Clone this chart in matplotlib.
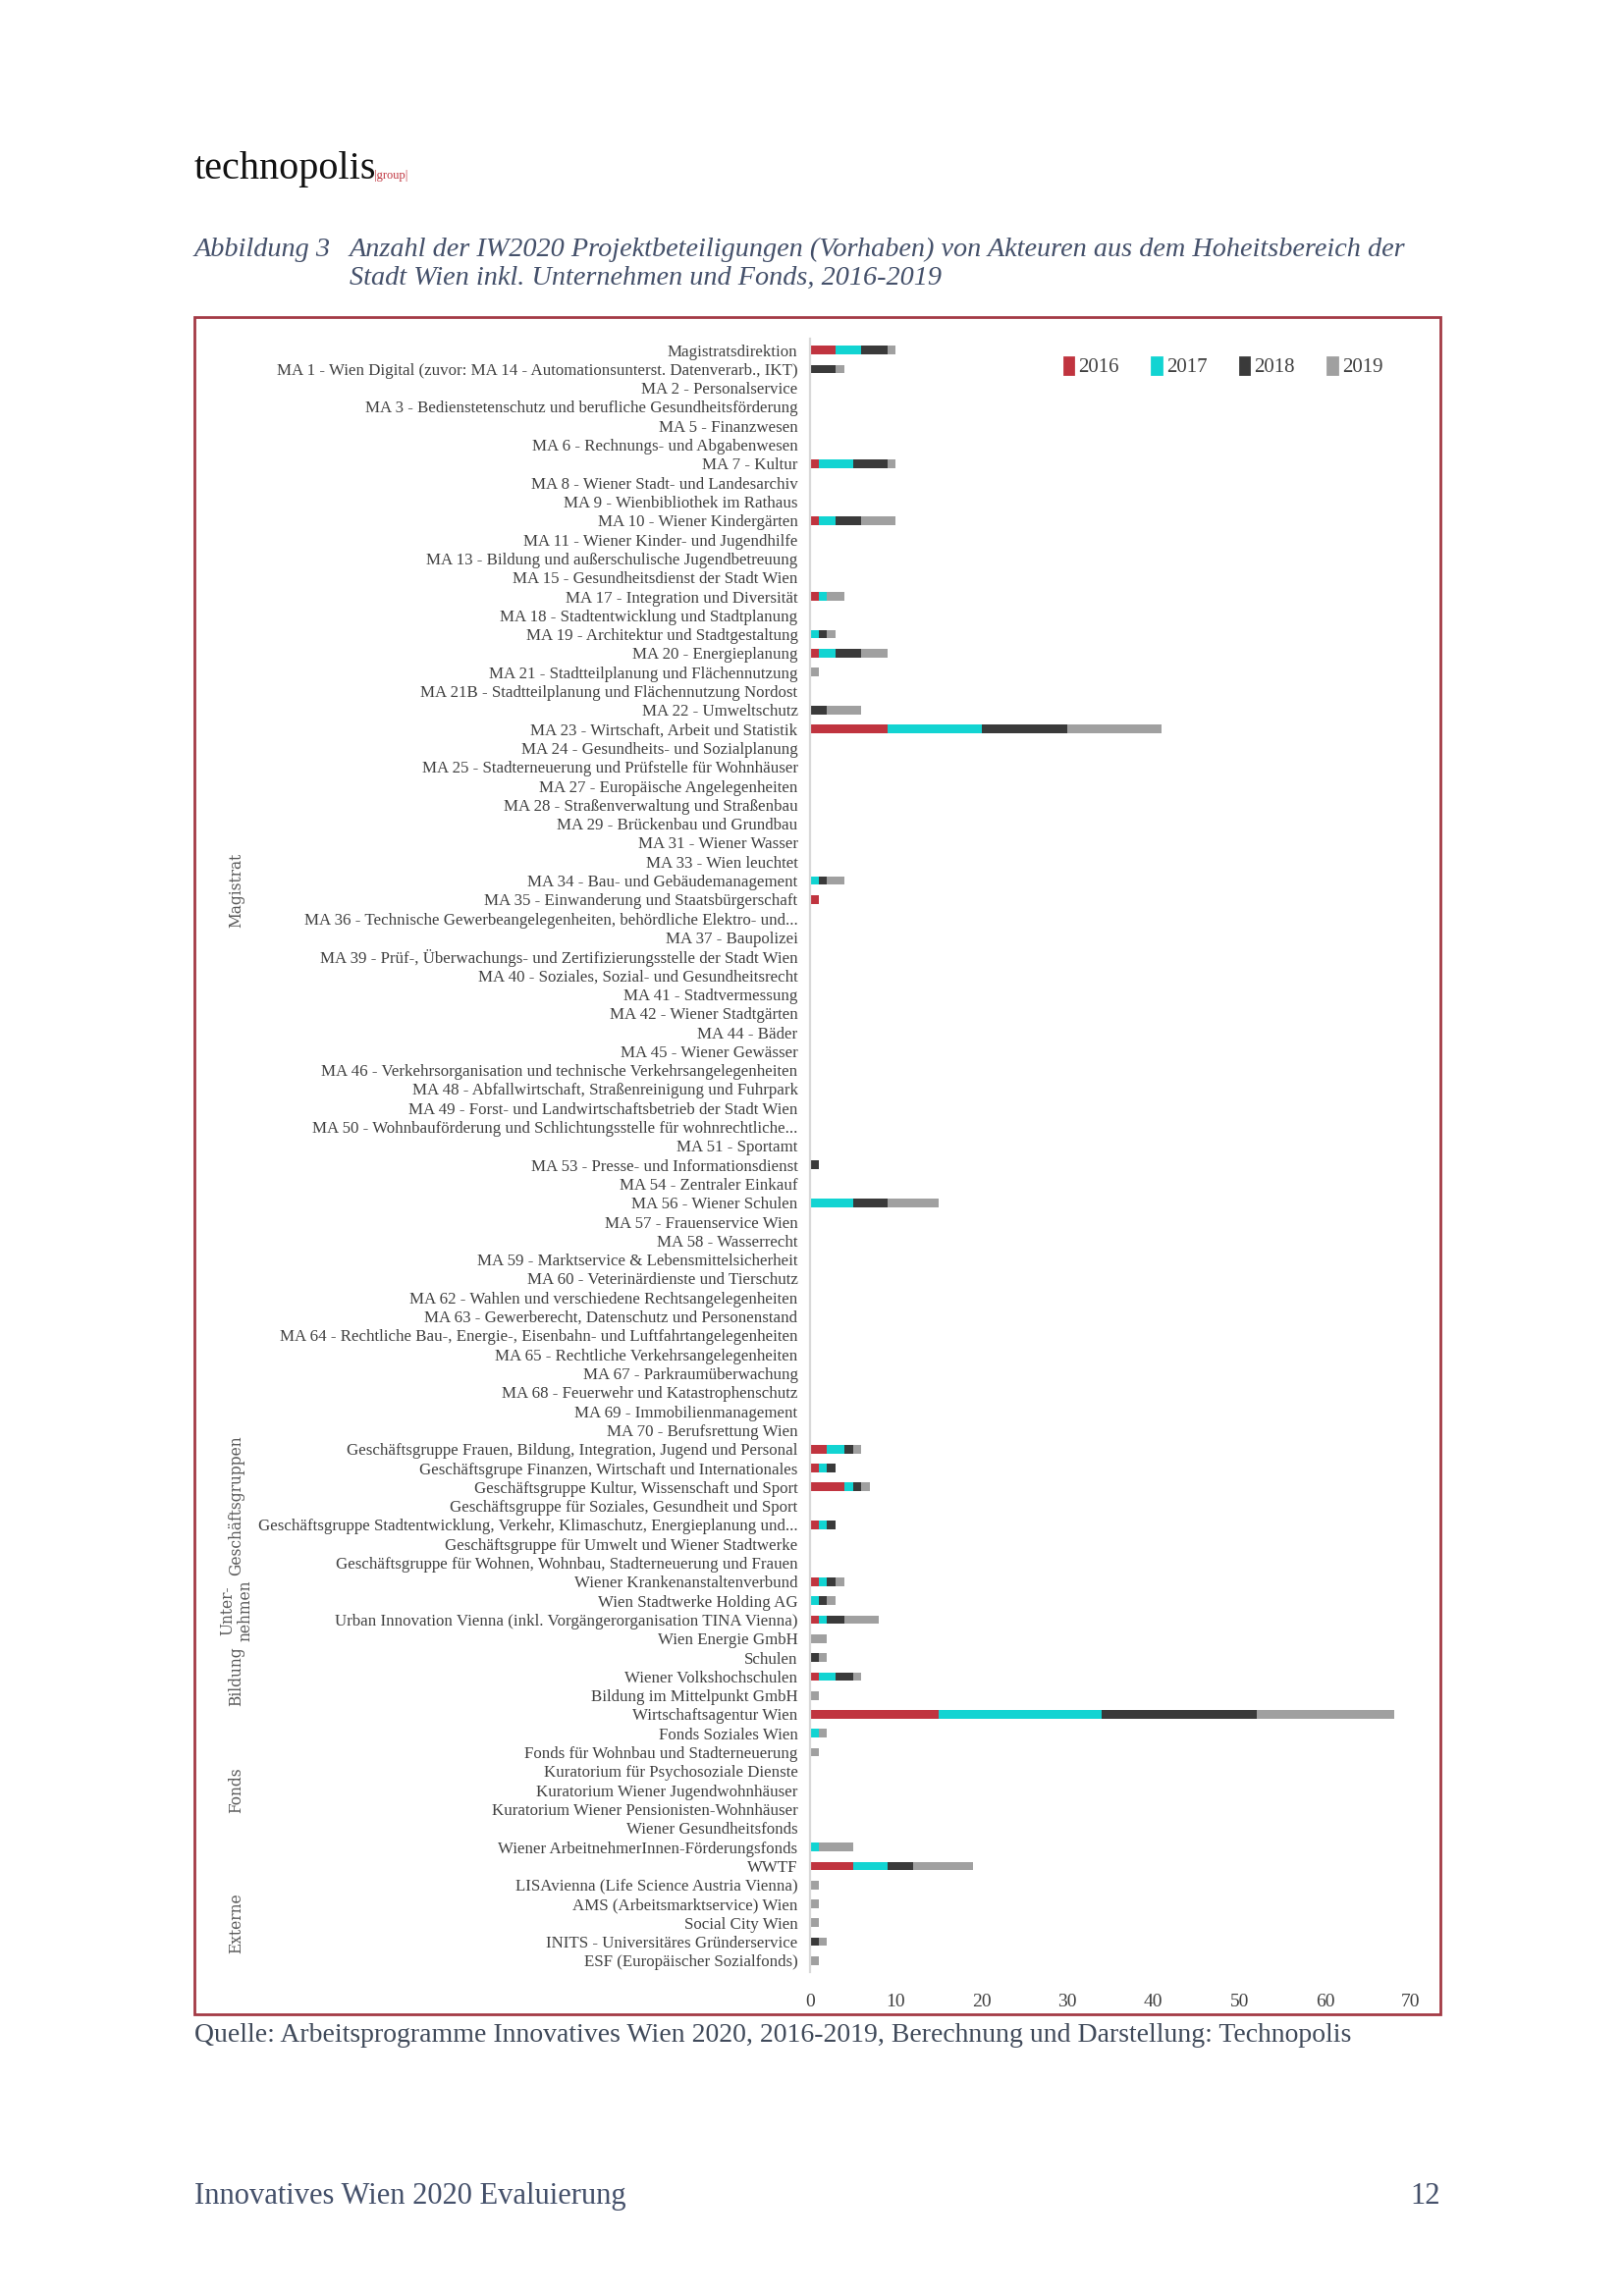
import matplotlib.pyplot as plt
import matplotlib.patches as mpatches
from matplotlib.transforms import blended_transform_factory

# Kategorien (von oben nach unten)
labels = [
    "Magistratsdirektion",
    "MA 1 - Wien Digital (zuvor: MA 14 - Automationsunterst. Datenverarb., IKT)",
    "MA 2 - Personalservice",
    "MA 3 - Bedienstetenschutz und berufliche Gesundheitsförderung",
    "MA 5 - Finanzwesen",
    "MA 6 - Rechnungs- und Abgabenwesen",
    "MA 7 - Kultur",
    "MA 8 - Wiener Stadt- und Landesarchiv",
    "MA 9 - Wienbibliothek im Rathaus",
    "MA 10 - Wiener Kindergärten",
    "MA 11 - Wiener Kinder- und Jugendhilfe",
    "MA 13 - Bildung und außerschulische Jugendbetreuung",
    "MA 15 - Gesundheitsdienst der Stadt Wien",
    "MA 17 - Integration und Diversität",
    "MA 18 - Stadtentwicklung und Stadtplanung",
    "MA 19 - Architektur und Stadtgestaltung",
    "MA 20 - Energieplanung",
    "MA 21 - Stadtteilplanung und Flächennutzung",
    "MA 21B - Stadtteilplanung und Flächennutzung Nordost",
    "MA 22 - Umweltschutz",
    "MA 23 - Wirtschaft, Arbeit und Statistik",
    "MA 24 - Gesundheits- und Sozialplanung",
    "MA 25 - Stadterneuerung und Prüfstelle für Wohnhäuser",
    "MA 27 - Europäische Angelegenheiten",
    "MA 28 - Straßenverwaltung und Straßenbau",
    "MA 29 - Brückenbau und Grundbau",
    "MA 31 - Wiener Wasser",
    "MA 33 - Wien leuchtet",
    "MA 34 - Bau- und Gebäudemanagement",
    "MA 35 - Einwanderung und Staatsbürgerschaft",
    "MA 36 - Technische Gewerbeangelegenheiten, behördliche Elektro- und...",
    "MA 37 - Baupolizei",
    "MA 39 - Prüf-, Überwachungs- und Zertifizierungsstelle der Stadt Wien",
    "MA 40 - Soziales, Sozial- und Gesundheitsrecht",
    "MA 41 - Stadtvermessung",
    "MA 42 - Wiener Stadtgärten",
    "MA 44 - Bäder",
    "MA 45 - Wiener Gewässer",
    "MA 46 - Verkehrsorganisation und technische Verkehrsangelegenheiten",
    "MA 48 - Abfallwirtschaft, Straßenreinigung und Fuhrpark",
    "MA 49 - Forst- und Landwirtschaftsbetrieb der Stadt Wien",
    "MA 50 - Wohnbauförderung und Schlichtungsstelle für wohnrechtliche...",
    "MA 51 - Sportamt",
    "MA 53 - Presse- und Informationsdienst",
    "MA 54 - Zentraler Einkauf",
    "MA 56 - Wiener Schulen",
    "MA 57 - Frauenservice Wien",
    "MA 58 - Wasserrecht",
    "MA 59 - Marktservice & Lebensmittelsicherheit",
    "MA 60 - Veterinärdienste und Tierschutz",
    "MA 62 - Wahlen und verschiedene Rechtsangelegenheiten",
    "MA 63 - Gewerberecht, Datenschutz und Personenstand",
    "MA 64 - Rechtliche Bau-, Energie-, Eisenbahn- und Luftfahrtangelegenheiten",
    "MA 65 - Rechtliche Verkehrsangelegenheiten",
    "MA 67 - Parkraumüberwachung",
    "MA 68 - Feuerwehr und Katastrophenschutz",
    "MA 69 - Immobilienmanagement",
    "MA 70 - Berufsrettung Wien",
    "Geschäftsgruppe Frauen, Bildung, Integration, Jugend und Personal",
    "Geschäftsgrupe Finanzen, Wirtschaft und Internationales",
    "Geschäftsgruppe Kultur, Wissenschaft und Sport",
    "Geschäftsgruppe für Soziales, Gesundheit und Sport",
    "Geschäftsgruppe Stadtentwicklung, Verkehr, Klimaschutz, Energieplanung und...",
    "Geschäftsgruppe für Umwelt und Wiener Stadtwerke",
    "Geschäftsgruppe für Wohnen, Wohnbau, Stadterneuerung und Frauen",
    "Wiener Krankenanstaltenverbund",
    "Wien Stadtwerke Holding AG",
    "Urban Innovation Vienna (inkl. Vorgängerorganisation TINA Vienna)",
    "Wien Energie GmbH",
    "Schulen",
    "Wiener Volkshochschulen",
    "Bildung im Mittelpunkt GmbH",
    "Wirtschaftsagentur Wien",
    "Fonds Soziales Wien",
    "Fonds für Wohnbau und Stadterneuerung",
    "Kuratorium für Psychosoziale Dienste",
    "Kuratorium Wiener Jugendwohnhäuser",
    "Kuratorium Wiener Pensionisten-Wohnhäuser",
    "Wiener Gesundheitsfonds",
    "Wiener ArbeitnehmerInnen-Förderungsfonds",
    "WWTF",
    "LISAvienna (Life Science Austria Vienna)",
    "AMS (Arbeitsmarktservice) Wien",
    "Social City Wien",
    "INITS - Universitäres Gründerservice",
    "ESF (Europäischer Sozialfonds)",
]

# Werte je Jahr, gleiche Reihenfolge wie labels
# Zeilen: Magistrat (58) | Geschäftsgruppen (7) | Unternehmen (4) | Bildung (3) | Fonds (9) | Externe (5)
v2016 = [3, 0, 0, 0, 0, 0, 1, 0, 0, 1, 0, 0, 0, 1, 0, 0, 1, 0, 0, 0,
         9, 0, 0, 0, 0, 0, 0, 0, 0, 1, 0, 0, 0, 0, 0, 0, 0, 0, 0, 0,
         0, 0, 0, 0, 0, 0, 0, 0, 0, 0, 0, 0, 0, 0, 0, 0, 0, 0,
         2, 1, 4, 0, 1, 0, 0,
         1, 0, 1, 0,
         0, 1, 0,
         15, 0, 0, 0, 0, 0, 0, 0, 5,
         0, 0, 0, 0, 0]
v2017 = [3, 0, 0, 0, 0, 0, 4, 0, 0, 2, 0, 0, 0, 1, 0, 1, 2, 0, 0, 0,
         11, 0, 0, 0, 0, 0, 0, 0, 1, 0, 0, 0, 0, 0, 0, 0, 0, 0, 0, 0,
         0, 0, 0, 0, 0, 5, 0, 0, 0, 0, 0, 0, 0, 0, 0, 0, 0, 0,
         2, 1, 1, 0, 1, 0, 0,
         1, 1, 1, 0,
         0, 2, 0,
         19, 1, 0, 0, 0, 0, 0, 1, 4,
         0, 0, 0, 0, 0]
v2018 = [3, 3, 0, 0, 0, 0, 4, 0, 0, 3, 0, 0, 0, 0, 0, 1, 3, 0, 0, 2,
         10, 0, 0, 0, 0, 0, 0, 0, 1, 0, 0, 0, 0, 0, 0, 0, 0, 0, 0, 0,
         0, 0, 0, 1, 0, 4, 0, 0, 0, 0, 0, 0, 0, 0, 0, 0, 0, 0,
         1, 1, 1, 0, 1, 0, 0,
         1, 1, 2, 0,
         1, 2, 0,
         18, 0, 0, 0, 0, 0, 0, 0, 3,
         0, 0, 0, 1, 0]
v2019 = [1, 1, 0, 0, 0, 0, 1, 0, 0, 4, 0, 0, 0, 2, 0, 1, 3, 1, 0, 4,
         11, 0, 0, 0, 0, 0, 0, 0, 2, 0, 0, 0, 0, 0, 0, 0, 0, 0, 0, 0,
         0, 0, 0, 0, 0, 6, 0, 0, 0, 0, 0, 0, 0, 0, 0, 0, 0, 0,
         1, 0, 1, 0, 0, 0, 0,
         1, 1, 4, 2,
         1, 1, 1,
         16, 1, 1, 0, 0, 0, 0, 4, 7,
         1, 1, 1, 1, 1]

years = ["2016", "2017", "2018", "2019"]
colors = ["#c0343f", "#12d4d2", "#3a3a3a", "#a0a0a0"]

groups = ["Magistrat", "Geschäftsgruppen", "Unter-\nnehmen", "Bildung", "Fonds", "Externe"]
group_sizes = [58, 7, 4, 3, 9, 5]

W, H = 1653, 2339
fig = plt.figure(figsize=(W / 200, H / 200), dpi=200)
plt.rcParams['font.family'] = ['Liberation Serif', 'DejaVu Serif']

textcol = "#44506a"

# Kopfzeile
fig.text(198 / W, 1 - 182 / H, "technopolis", fontsize=14.5, color="#111111", va="baseline")
fig.text(381 / W, 1 - 182 / H, "|group|", fontsize=4.5, color="#c0343f", va="baseline")

fig.text(198 / W, 1 - 261 / H, "Abbildung 3", fontsize=10.2, style="italic", color=textcol, va="baseline")
fig.text(356 / W, 1 - 261 / H,
         "Anzahl der IW2020 Projektbeteiligungen (Vorhaben) von Akteuren aus dem Hoheitsbereich der",
         fontsize=10.2, style="italic", color=textcol, va="baseline")
fig.text(356 / W, 1 - 290 / H, "Stadt Wien inkl. Unternehmen und Fonds, 2016-2019",
         fontsize=10.2, style="italic", color=textcol, va="baseline")

# Rahmen
frame = mpatches.Rectangle((198 / W, 1 - 2052 / H), (1467 - 198) / W, (2052 - 323) / H,
                           transform=fig.transFigure, fill=False, edgecolor="#a33a45", lw=1.0)
fig.patches.append(frame)

ax = fig.add_axes([825 / W, 1 - 2009 / H, (1437 - 825) / W, (2009 - 345) / H])

n = len(labels)
ypos = list(range(n))
left = [0] * n
for year, vals, col in zip(years, [v2016, v2017, v2018, v2019], colors):
    ax.barh(ypos, vals, left=left, height=0.45, color=col, label=year)
    left = [a + b for a, b in zip(left, vals)]

ax.set_ylim(n - 0.5 + 0.1, -0.6)
ax.set_xlim(0, 70)
ax.set_yticks(ypos)
ax.set_yticklabels(labels, fontsize=6.1, color="#404040")
ax.set_xticks(range(0, 71, 10))
ax.tick_params(axis="y", length=0, pad=4.5)
ax.tick_params(axis="x", length=0, pad=8, labelsize=7, labelcolor="#404040")
for s in ["top", "right", "bottom"]:
    ax.spines[s].set_visible(False)
ax.spines["left"].set_color("#d9d9d9")
ax.spines["left"].set_linewidth(0.8)

# Gruppenbeschriftung
trans = blended_transform_factory(ax.transAxes, ax.transData)
start = 0
for g, sz in zip(groups, group_sizes):
    mid = start + (sz - 1) / 2
    ax.text(-0.955, mid, g, rotation=90, ha="center", va="center", fontsize=5.6,
            color="#595959", family=["DejaVu Serif"], transform=trans, linespacing=1.1)
    start += sz

handles = [mpatches.Patch(color=c, label=y) for y, c in zip(years, colors)]
fig.legend(handles=handles, loc="center", bbox_to_anchor=(1246 / W, 1 - 374 / H), ncol=4,
           frameon=False, fontsize=7.5, handlelength=0.45, handleheight=0.9,
           handletextpad=0.25, columnspacing=1.6, labelcolor="#404040")

fig.text(198 / W, 1 - 2080 / H,
         "Quelle: Arbeitsprogramme Innovatives Wien 2020, 2016-2019, Berechnung und Darstellung: Technopolis",
         fontsize=10.0, color="#404a5a", va="baseline")

fig.text(198 / W, 1 - 2245 / H, "Innovatives Wien 2020 Evaluierung", fontsize=11, color=textcol, va="baseline")
fig.text(1467 / W, 1 - 2245 / H, "12", fontsize=11, color=textcol, va="baseline", ha="right")

fig.savefig("out.png", dpi=200)
